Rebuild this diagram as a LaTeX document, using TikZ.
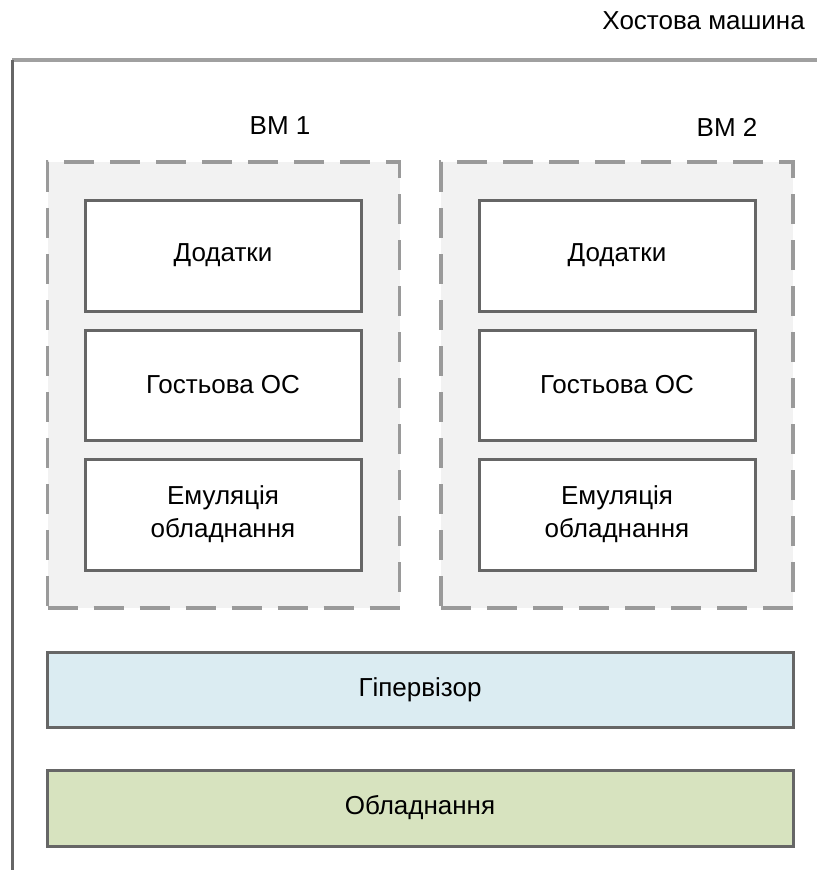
\documentclass[tikz,border=0pt]{standalone}
\usepackage{fontspec}
\setmainfont{Liberation Sans}
\begin{document}
\begin{tikzpicture}[x=1pt,y=-1pt,
  lbl/.style={font=\fontsize{26}{33}\selectfont, text=black, inner sep=0pt, align=center},
  vmbox/.style={draw=vmborder, fill=vmfill, line width=3.5pt, dash pattern=on 30pt off 16pt, minimum width=352pt, minimum height=446pt, inner sep=0pt},
  layerbox/.style={draw=boxborder, fill=white, line width=3pt, minimum width=276pt, inner sep=0pt, lbl},
  wide/.style={draw=boxborder, line width=3pt, minimum width=746pt, inner sep=0pt, lbl}
]
\definecolor{vmborder}{HTML}{9A9A9A}
\definecolor{vmfill}{HTML}{F2F2F2}
\definecolor{boxborder}{HTML}{666666}
\definecolor{hostborder}{HTML}{A0A0A0}
\definecolor{hostleft}{HTML}{666666}
\definecolor{hypfill}{HTML}{DBECF2}
\definecolor{hwfill}{HTML}{D7E3BF}
\useasboundingbox[fill=white] (0,0) rectangle (817,870);

% host machine frame
\coordinate (hc) at (12,60);
\coordinate (hr) at (817,60);
\coordinate (hb) at (12,870);
\draw[hostborder, line width=4pt] (hc) -- (hr);
\draw[hostleft, line width=3pt] (hc) -- (hb);
\node[lbl, anchor=east] (host) at (805,21) {Хостова машина};

% VM labels
\node[lbl] (vm1l) at (280,126) {ВМ 1};
\node[lbl] (vm2l) at (727,127) {ВМ 2};

% VM containers
\node[vmbox] (vm1) at (223.5,385) {};
\node[vmbox] (vm2) at (617,385) {};

% VM1 layers
\node[layerbox, minimum height=111pt] (app1) at (223,255.5) {Додатки};
\node[layerbox, minimum height=110pt] (os1) at (223,385) {Гостьова ОС};
\node[layerbox, minimum height=111pt] (emu1) at (223,514.5) {Емуляція\\обладнання};

% VM2 layers
\node[layerbox, minimum height=111pt] (app2) at (617,255.5) {Додатки};
\node[layerbox, minimum height=110pt] (os2) at (617,385) {Гостьова ОС};
\node[layerbox, minimum height=111pt] (emu2) at (617,514.5) {Емуляція\\обладнання};

% hypervisor and hardware
\node[wide, fill=hypfill, minimum height=75pt] (hyp) at (420,689.5) {Гіпервізор};
\node[wide, fill=hwfill, minimum height=76pt] (hw) at (420,808) {Обладнання};
\end{tikzpicture}
\end{document}
